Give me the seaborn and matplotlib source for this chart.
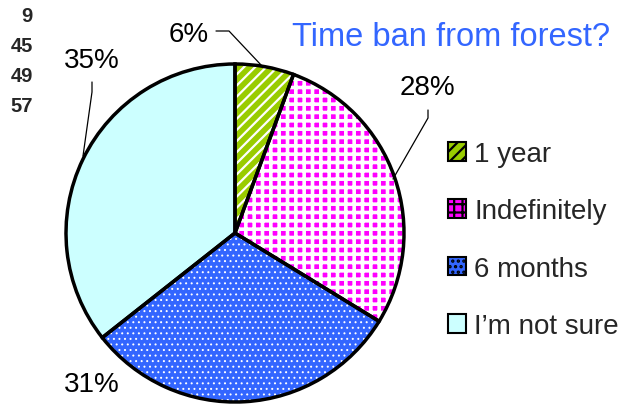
import numpy as np
import matplotlib
matplotlib.use("Agg")
import matplotlib.pyplot as plt
import seaborn as sns
from matplotlib.patches import Patch

# data
categories = ["1 year", "Indefinitely", "6 months", "I\u2019m not sure"]
counts = [9, 45, 49, 57]
pct_labels = ["6%", "28%", "31%", "35%"]
colors = ["#99CC00", "#FF00FF", "#3366FF", "#CCFFFF"]
hatches = ["///", "++", "...", ""]
hatch_lw = [1.6, 2.6, 0.7, 1.0]

sns.set_style("white")
plt.rcParams["font.family"] = ["Liberation Sans", "DejaVu Sans"]
plt.rcParams["hatch.linewidth"] = 1.6

W, H = 626, 406
fig = plt.figure(figsize=(W / 100, H / 100), dpi=100)
ax = fig.add_axes([0, 0, 1, 1])


def Y(y):
    return H - y


palette = sns.color_palette(colors)
center = (235, Y(234))
radius = 169

# filled wedges with white hatching
wedges, _ = ax.pie(counts, colors=palette, startangle=90, counterclock=False,
                   center=center, radius=radius, frame=True,
                   wedgeprops=dict(edgecolor="white", linewidth=0))
for w, h, lw in zip(wedges, hatches, hatch_lw):
    w.set_hatch(h)
    if hasattr(w, "set_hatch_linewidth"):
        w.set_hatch_linewidth(lw)
# black outlines on top
ax.pie(counts, colors=["none"] * 4, startangle=90, counterclock=False,
       center=center, radius=radius, frame=True,
       wedgeprops=dict(edgecolor="black", linewidth=2.5, fill=False))
ax.set_xlim(0, W)
ax.set_ylim(0, H)
ax.set_aspect("equal")
ax.set_axis_off()

# percentage labels and leader lines
lab_pos = [(189, 35), (427, 88), (92, 385), (92, 61)]
leaders = [
    [(216, 32), (229, 32), (262, 67)],
    [(428, 111), (428, 119), (393, 180)],
    None,
    [(92, 83), (92, 93), (83, 157)],
]
for txt, (x, y), ld in zip(pct_labels, lab_pos, leaders):
    ax.text(x, Y(y), txt, fontsize=20, ha="center", va="center", color="black")
    if ld:
        xs = [p[0] for p in ld]
        ys = [Y(p[1]) for p in ld]
        ax.plot(xs, ys, color="black", lw=0.9)

# raw counts in the top-left corner
for i, c in enumerate(counts):
    fig.text(33 / W, 1 - (16 + 30 * i) / H, str(c), fontsize=14.5, fontweight="bold",
             ha="right", va="center")

ax.text(451, Y(38), "Time ban from forest?", fontsize=23.5, color="#3366FF",
        ha="center", va="center")

handles = [Patch(facecolor=c, edgecolor="black", hatch=h, label=l, linewidth=1.5)
           for c, h, l in zip(colors, hatches, categories)]
leg = ax.legend(handles=handles, loc="upper left",
                bbox_to_anchor=(448 / W, 1 - 142 / H), frameon=False,
                fontsize=20, handlelength=0.65, handleheight=0.65,
                handletextpad=0.3, labelspacing=1.13, borderpad=0,
                borderaxespad=0)

fig.savefig("out.png", dpi=100)
